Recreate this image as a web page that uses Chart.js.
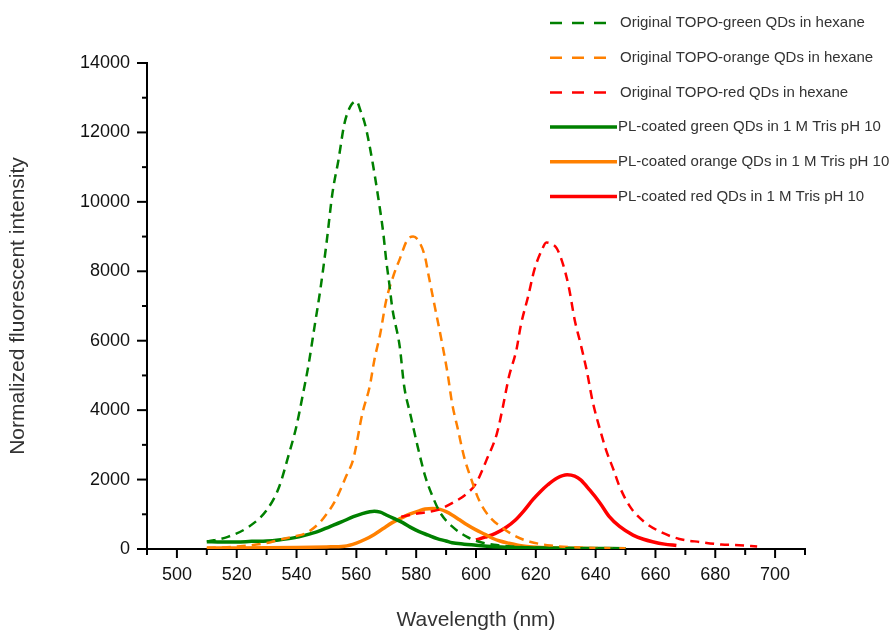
<!DOCTYPE html>
<html lang="en">
  <head>
    <meta charset="UTF-8" />
    <title>QD photoluminescence spectra</title>
    <script src="https://cdn.jsdelivr.net/npm/chart.js"></script>
    <style>
      html, body { margin: 0; padding: 0; background: #fff; }
      .chart-container { position: relative; width: 893px; height: 632px; }
    </style>
  </head>
  <body>
    <div class="chart-container">
      <canvas id="plChart"></canvas>
    </div>

    <script>
      // wavelength (nm) / intensity pairs
      const greenHexX = [510, 517, 524, 530, 534, 537.5, 540, 542, 544, 546, 548, 550, 552, 554, 556, 558, 560, 561.5, 563, 564, 565.5, 567, 569, 570, 571, 572, 574.5, 576, 578, 580.5, 583, 585.5, 588, 592, 597, 601, 606, 612, 620, 630, 640, 650];
      const greenHexY = [210, 350, 640, 1120, 1750, 2750, 3550, 4400, 5300, 6400, 7500, 8800, 10250, 11200, 12250, 12750, 12900, 12600, 12200, 11800, 11100, 10300, 9100, 8300, 7650, 6950, 5830, 4680, 3900, 2950, 2100, 1510, 1050, 650, 350, 210, 120, 70, 40, 25, 15, 10];

      const orangeHexX = [510, 520, 530, 534, 539, 543, 547.5, 550, 553, 556.5, 559, 562, 564.5, 566, 568, 570, 572.5, 574.5, 577, 579, 581, 583, 584, 586, 588.5, 590.5, 592, 594, 596, 598.5, 601, 604.5, 609, 613.5, 618, 625, 635, 650];
      const orangeHexY = [30, 70, 170, 260, 360, 450, 740, 1000, 1400, 2080, 2600, 3900, 4700, 5440, 6210, 7170, 7900, 8350, 8900, 9000, 8850, 8400, 7950, 7080, 6000, 5060, 4200, 3430, 2660, 1990, 1410, 930, 600, 355, 210, 100, 40, 20];

      const redHexX = [575, 581, 587, 592, 597, 600, 603.5, 607, 609, 611, 613.5, 615, 617.5, 619.5, 622, 623.5, 625, 627, 629, 631, 633, 635, 637, 639, 641.5, 643.5, 646, 648, 651.5, 656, 661.5, 668, 675, 682, 688, 694];
      const redHexY = [930, 1030, 1120, 1320, 1600, 1890, 2560, 3330, 4100, 4960, 5730, 6450, 7300, 8040, 8610, 8830, 8800, 8660, 8230, 7560, 6600, 5900, 5150, 4250, 3430, 2850, 2280, 1800, 1220, 800, 500, 290, 200, 130, 110, 70];

      const greenPLX = [510, 515, 520, 525, 530, 534, 539, 543, 547, 551, 555, 559, 562, 564.5, 566, 568, 570, 572.5, 575.5, 578, 581, 584, 587, 590, 592, 596, 600, 605, 610, 620, 630, 640, 650];
      const greenPLY = [210, 200, 200, 220, 230, 260, 320, 400, 500, 640, 780, 930, 1020, 1075, 1090, 1060, 980, 880, 760, 630, 500, 400, 300, 230, 180, 140, 110, 70, 50, 30, 20, 15, 10];

      const orangePLX = [510, 520, 530, 540, 550, 556, 560, 563, 566, 569, 572, 575.5, 578, 581, 583, 585.5, 588, 590, 592, 594.5, 597, 600, 603, 605.5, 608, 611, 614, 617, 622, 630, 640, 650];
      const orangePLY = [30, 30, 35, 45, 60, 80, 170, 280, 420, 590, 760, 910, 1010, 1100, 1150, 1170, 1140, 1075, 980, 840, 700, 550, 420, 310, 230, 165, 110, 70, 40, 20, 10, 5];

      const redPLX = [600, 603, 606.5, 610, 613, 616, 619, 621.5, 624, 627, 630.5, 633, 635, 638, 641.5, 644.5, 648, 652.5, 656, 659, 663, 667];
      const redPLY = [260, 340, 450, 620, 820, 1100, 1420, 1650, 1850, 2040, 2140, 2100, 1990, 1700, 1320, 940, 650, 400, 280, 210, 140, 100];

      const labels = [
        "Original TOPO-green QDs in hexane",
        "Original TOPO-orange QDs in hexane",
        "Original TOPO-red QDs in hexane",
        "PL-coated green QDs in 1 M Tris pH 10",
        "PL-coated orange QDs in 1 M Tris pH 10",
        "PL-coated red QDs in 1 M Tris pH 10",
      ];

      const GREEN = "#008000";
      const ORANGE = "#ff8000";
      const RED = "#ff0000";
      const FONT = "'Liberation Sans', Arial, sans-serif";

      function pts(xs, ys) {
        return xs.map((x, i) => ({ x: x, y: ys[i] }));
      }

      function dashed(label, xs, ys, color) {
        return {
          label: label,
          data: pts(xs, ys),
          borderColor: color,
          borderWidth: 2.5,
          borderDash: [9, 6],
          pointRadius: 0,
          cubicInterpolationMode: "monotone",
        };
      }

      function solid(label, xs, ys, color) {
        return {
          label: label,
          data: pts(xs, ys),
          borderColor: color,
          borderWidth: 3.5,
          pointRadius: 0,
          cubicInterpolationMode: "monotone",
        };
      }

      // outward tick marks, long for labelled ticks, short for the others
      const tickMarks = {
        id: "tickMarks",
        afterDraw(chart) {
          const ctx = chart.ctx;
          const xs = chart.scales.x;
          const ys = chart.scales.y;
          const area = chart.chartArea;
          ctx.save();
          ctx.strokeStyle = "#000";
          ctx.lineWidth = 2;
          ys.ticks.forEach((t) => {
            const p = ys.getPixelForValue(t.value);
            const len = t.value % 2000 === 0 ? 10 : 5;
            ctx.beginPath();
            ctx.moveTo(area.left - len, p);
            ctx.lineTo(area.left, p);
            ctx.stroke();
          });
          xs.ticks.forEach((t) => {
            const p = xs.getPixelForValue(t.value);
            const len = (t.value - 500) % 20 === 0 ? 9 : 6;
            ctx.beginPath();
            ctx.moveTo(p, area.bottom);
            ctx.lineTo(p, area.bottom + len);
            ctx.stroke();
          });
          ctx.restore();
        },
      };

      // legend in the upper right, drawn from the dataset styles
      const cornerLegend = {
        id: "cornerLegend",
        afterDraw(chart) {
          const ctx = chart.ctx;
          ctx.save();
          ctx.font = "15px " + FONT;
          ctx.textBaseline = "middle";
          ctx.fillStyle = "#333";
          chart.data.datasets.forEach((ds, i) => {
            const y = 23 + i * 34.7;
            const isDash = ds.borderDash && ds.borderDash.length;
            ctx.strokeStyle = ds.borderColor;
            ctx.lineWidth = isDash ? 2.5 : 3.5;
            ctx.setLineDash(isDash ? [12, 10] : []);
            ctx.beginPath();
            ctx.moveTo(550, y);
            ctx.lineTo(isDash ? 606 : 617, y);
            ctx.stroke();
            ctx.fillText(ds.label, isDash ? 620 : 618, y);
          });
          ctx.restore();
        },
      };

      new Chart(document.getElementById("plChart"), {
        type: "line",
        data: {
          datasets: [
            dashed(labels[0], greenHexX, greenHexY, GREEN),
            dashed(labels[1], orangeHexX, orangeHexY, ORANGE),
            dashed(labels[2], redHexX, redHexY, RED),
            solid(labels[3], greenPLX, greenPLY, GREEN),
            solid(labels[4], orangePLX, orangePLY, ORANGE),
            solid(labels[5], redPLX, redPLY, RED),
          ],
        },
        options: {
          responsive: true,
          maintainAspectRatio: false,
          animation: false,
          layout: { padding: { top: 63, right: 88, left: 0, bottom: 0 } },
          plugins: {
            legend: { display: false },
            tooltip: { enabled: false },
          },
          scales: {
            x: {
              type: "linear",
              min: 490,
              max: 710,
              afterFit: (s) => { s.height = 83; },
              border: { display: true, color: "#000", width: 2 },
              grid: { display: false, drawTicks: false },
              ticks: {
                stepSize: 10,
                autoSkip: false,
                maxRotation: 0,
                padding: 15,
                color: "#111",
                font: { family: FONT, size: 18 },
                callback: (v) => ((v - 500) % 20 === 0 ? v : ""),
              },
              title: {
                display: true,
                text: "Wavelength (nm)",
                color: "#333",
                font: { family: FONT, size: 21, lineHeight: 1.1 },
                padding: { top: 0, bottom: 0 },
              },
            },
            y: {
              min: 0,
              max: 14000,
              afterFit: (s) => { s.width = 147; },
              border: { display: true, color: "#000", width: 2 },
              grid: { display: false, drawTicks: false },
              ticks: {
                stepSize: 1000,
                autoSkip: false,
                padding: 17,
                color: "#111",
                font: { family: FONT, size: 18 },
                callback: (v) => (v % 2000 === 0 ? v : ""),
              },
              title: {
                display: true,
                text: "Normalized fluorescent intensity",
                color: "#333",
                font: { family: FONT, size: 21 },
                padding: { top: 6, bottom: 0 },
              },
            },
          },
        },
        plugins: [tickMarks, cornerLegend],
      });
    </script>
  </body>
</html>
